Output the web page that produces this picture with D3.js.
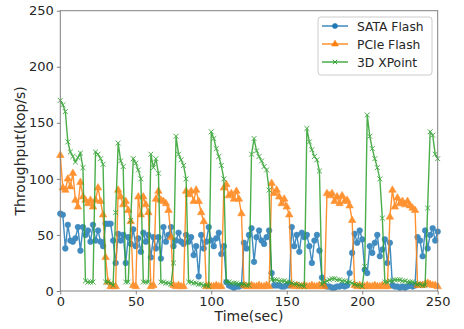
<!DOCTYPE html>
<html><head><meta charset="utf-8">
<script src="https://cdn.jsdelivr.net/npm/d3@7"></script>
<style>body{margin:0;background:#fff} text{font-family:"DejaVu Sans",sans-serif}</style>
</head><body><svg id="chart" width="464" height="329"></svg>
<script>
const seriesNames = ["SATA Flash", "PCIe Flash", "3D XPoint"];
const seriesColors = ["#1f77b4", "#ff7f0e", "#2ca02c"];
// one sample every 5/3 s, 0 … 250 s
const timeSec = d3.range(151).map(i => i * 250 / 150);
const sataFlash = [
  69,68,38,59,45,44,47,57,36,57, 50,54,44,59,45,54,44,40,60,60,
  60,45,25,51,45,50,25,48,42,55, 40,47,35,52,44,50,30,48,38,48,
  29,57,44,50,57,40,45,52,44,42, 50,44,48,32,40,13,50,38,44,57,
  45,40,47,52,33,40,8,5,4,3, 4,4,5,43,38,50,56,26,48,54,
  45,42,48,54,16,5,5,5,4,4, 5,5,57,40,50,35,52,48,50,40,
  25,45,50,36,12,5,4,4,3,3, 4,4,5,4,5,16,34,51,43,54,
  46,19,16,40,34,43,50,31,37,46, 25,43,5,4,4,3,4,3,4,5,
  4,5,48,45,31,54,38,50,56,45, 53];
const pcieFlash = [
  121,92,90,100,93,105,81,75,97,84, 81,78,81,75,81,92,80,68,30,8,
  4,4,4,90,84,77,80,72,62,5, 4,84,68,84,77,70,4,5,82,89,
  81,80,78,72,48,5,4,5,4,4, 89,86,89,80,90,80,70,62,4,5,
  4,4,5,4,4,92,95,85,87,82, 89,82,69,5,4,4,5,4,4,5,
  4,4,5,4,96,87,90,84,78,82, 75,68,5,4,5,4,4,5,4,4,
  5,4,4,5,4,4,87,85,87,80, 84,78,85,80,81,76,63,5,4,5,
  4,4,5,4,4,5,4,4,5,4, 4,66,90,75,83,78,80,77,80,76,
  74,72,5,5,5,6,7,6,5,5, 4];
const xpoint3D = [
  170,166,160,133,124,120,115,119,123,110, 9,8,8,8,124,122,118,113,8,8,
  7,5,70,132,116,111,8,8,63,118, 114,108,100,8,8,8,122,110,118,105,
  8,8,7,7,6,25,138,122,117,112, 100,8,8,7,7,6,6,5,5,4,
  142,136,127,120,112,100,8,8,7,7, 7,6,6,6,5,5,122,136,125,120,
  116,111,108,90,10,10,10,9,9,9, 8,8,7,6,6,5,5,4,145,133,
  126,120,117,107,6,8,9,10,11,11, 10,10,9,9,8,8,7,6,5,5,
  4,22,157,138,127,118,110,100,65,8, 8,9,9,10,10,10,9,9,8,8,
  8,7,6,6,5,5,74,142,139,122, 118];
const xTicks = [0, 50, 100, 150, 200, 250];
const yTicks = [0, 50, 100, 150, 200, 250];

const svg = d3.select("#chart");
const L = 60.3, R = 437.7, T = 10.7, B = 291;
const x = d3.scaleLinear().domain([0, 250]).range([L, R]);
const y = d3.scaleLinear().domain([0, 250]).range([B, T]);
const axisColor = "#808080";

const xSym = {draw(ctx, size){ const r = Math.sqrt(size)/2; ctx.moveTo(-r,-r); ctx.lineTo(r,r); ctx.moveTo(-r,r); ctx.lineTo(r,-r);} };
const markerTypes = [d3.symbolCircle, d3.symbolTriangle, xSym];
const markerSizes = [25, 24, 24];
const allSeries = [sataFlash, pcieFlash, xpoint3D];

const plot = svg.append("g");
allSeries.forEach((vals, k) => {
  const pts = timeSec.map((t, i) => [t, vals[i]]);
  const g = plot.append("g").attr("opacity", 0.85);
  g.append("path").datum(pts)
    .attr("d", d3.line().x(d => x(d[0])).y(d => y(d[1])))
    .attr("fill", "none").attr("stroke", seriesColors[k]).attr("stroke-width", 1.4);
  const sym = d3.symbol().type(markerTypes[k]).size(markerSizes[k]);
  g.selectAll("path.m").data(pts).join("path").attr("class", "m")
    .attr("transform", d => `translate(${x(d[0])},${y(d[1])})`)
    .attr("d", sym)
    .attr("fill", k === 2 ? "none" : seriesColors[k])
    .attr("stroke", seriesColors[k])
    .attr("stroke-width", k === 2 ? 1 : 0.6);
});

// frame
svg.append("rect").attr("x", L).attr("y", T).attr("width", R - L).attr("height", B - T)
  .attr("fill", "none").attr("stroke", axisColor).attr("stroke-width", 1);

const xAxis = svg.append("g").attr("transform", `translate(0,${B})`)
  .call(d3.axisBottom(x).tickValues(xTicks).tickSize(3.5).tickPadding(2).tickFormat(d3.format("d")));
const yAxis = svg.append("g").attr("transform", `translate(${L},0)`)
  .call(d3.axisLeft(y).tickValues(yTicks).tickSize(3.5).tickPadding(3).tickFormat(d3.format("d")));
[xAxis, yAxis].forEach(a => {
  a.select(".domain").remove();
  a.selectAll("line").attr("stroke", axisColor);
  a.selectAll("text").attr("fill", "#262626").style("font-size", "13px").style("font-family", "DejaVu Sans");
});

svg.append("text").attr("x", (L + R) / 2).attr("y", 321).attr("text-anchor", "middle")
  .attr("fill", "#262626").style("font-size", "14px").text("Time(sec)");
svg.append("text").attr("transform", `translate(25,${(T + B) / 2}) rotate(-90)`).attr("text-anchor", "middle")
  .attr("fill", "#262626").style("font-size", "14px").text("Throughput(kop/s)");

// legend
const lg = svg.append("g");
lg.append("rect").attr("x", 318).attr("y", 17).attr("width", 114).attr("height", 58).attr("rx", 3)
  .attr("fill", "white").attr("fill-opacity", 0.85).attr("stroke", "#cccccc");
seriesNames.forEach((name, k) => {
  const cy = 26 + k * 18;
  lg.append("line").attr("x1", 322).attr("x2", 348).attr("y1", cy).attr("y2", cy)
    .attr("stroke", seriesColors[k]).attr("stroke-width", 1.3);
  lg.append("path").attr("transform", `translate(335,${cy})`)
    .attr("d", d3.symbol().type(markerTypes[k]).size(markerSizes[k] * 0.8))
    .attr("fill", k === 2 ? "none" : seriesColors[k]).attr("stroke", seriesColors[k]).attr("stroke-width", k === 2 ? 1 : 0.6);
  lg.append("text").attr("x", 357).attr("y", cy + 4.5).attr("fill", "#262626").style("font-size", "12.3px").text(name);
});
</script></body></html>
